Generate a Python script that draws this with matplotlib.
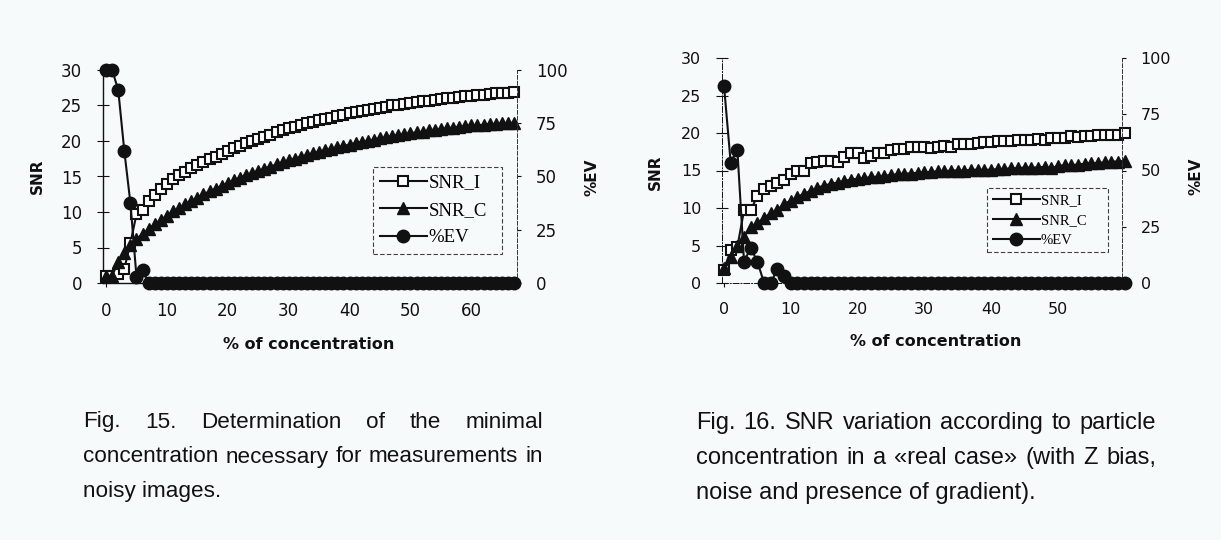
import numpy as np
import matplotlib
matplotlib.use("Agg")
import matplotlib.pyplot as plt

W, H = 1221, 540
BG = "#f7fafb"
INK = "#111111"

# ---- Fig. 15 readings (noisy images) ----
conc_15 = np.arange(68)
snr_i_15 = [1.0, 1.0, 1.2, 2.0, 5.6, 9.7, 10.3, 11.5, 12.4, 13.3,
            14.0, 14.6, 15.2, 15.7, 16.2, 16.6, 17.0, 17.4, 17.8, 18.2,
            18.6, 19.0, 19.3, 19.7, 20.0, 20.3, 20.6, 20.9, 21.2, 21.5,
            21.8, 22.0, 22.3, 22.5, 22.7, 22.9, 23.1, 23.3, 23.5, 23.7,
            23.9, 24.1, 24.2, 24.4, 24.5, 24.7, 24.8, 25.0, 25.1, 25.2,
            25.4, 25.5, 25.6, 25.7, 25.8, 25.9, 26.0, 26.1, 26.2, 26.3,
            26.4, 26.5, 26.5, 26.6, 26.7, 26.7, 26.8, 26.9]
snr_c_15 = [1.0, 1.0, 3.0, 4.2, 5.3, 6.2, 6.9, 7.6, 8.3, 8.9,
            9.5, 10.1, 10.6, 11.1, 11.6, 12.0, 12.5, 12.9, 13.3, 13.7,
            14.1, 14.5, 14.8, 15.2, 15.5, 15.8, 16.1, 16.4, 16.7, 17.0,
            17.3, 17.5, 17.8, 18.0, 18.3, 18.5, 18.7, 18.9, 19.1, 19.3,
            19.5, 19.7, 19.9, 20.0, 20.2, 20.4, 20.5, 20.7, 20.8, 21.0,
            21.1, 21.2, 21.3, 21.5, 21.6, 21.7, 21.8, 21.9, 22.0, 22.1,
            22.2, 22.2, 22.3, 22.4, 22.4, 22.5, 22.5, 22.6]
ev_15 = [100, 100, 90.7, 62.0, 37.6, 3.0, 6.0, 0, 0, 0,
         0, 0, 0, 0, 0, 0, 0, 0, 0, 0,
         0, 0, 0, 0, 0, 0, 0, 0, 0, 0,
         0, 0, 0, 0, 0, 0, 0, 0, 0, 0,
         0, 0, 0, 0, 0, 0, 0, 0, 0, 0,
         0, 0, 0, 0, 0, 0, 0, 0, 0, 0,
         0, 0, 0, 0, 0, 0, 0, 0]

# ---- Fig. 16 readings (real case) ----
conc_16 = np.arange(61)
snr_i_16 = [1.7, 4.4, 4.8, 9.7, 9.7, 11.6, 12.5, 12.9, 13.4, 13.8,
            14.5, 15.0, 15.0, 16.0, 16.2, 16.3, 16.3, 16.2, 16.8, 17.3,
            17.3, 16.7, 17.0, 17.3, 17.4, 17.8, 17.9, 17.9, 18.1, 18.1,
            18.2, 18.0, 18.2, 18.3, 18.2, 18.5, 18.5, 18.6, 18.7, 18.8,
            18.8, 18.9, 19.0, 19.0, 19.1, 19.1, 19.1, 19.2, 19.1, 19.3,
            19.3, 19.4, 19.6, 19.5, 19.6, 19.6, 19.7, 19.7, 19.8, 19.8,
            20.0]
snr_c_16 = [2.0, 3.5, 5.0, 6.2, 7.5, 8.0, 8.7, 9.3, 9.8, 10.5,
            11.0, 11.5, 11.9, 12.3, 12.7, 13.0, 13.2, 13.4, 13.6, 13.8,
            13.9, 14.0, 14.1, 14.2, 14.3, 14.4, 14.5, 14.6, 14.6, 14.7,
            14.8, 14.8, 14.9, 14.9, 15.0, 15.0, 15.0, 15.1, 15.1, 15.1,
            15.1, 15.2, 15.2, 15.3, 15.3, 15.4, 15.4, 15.4, 15.5, 15.3,
            15.6, 15.7, 15.7, 15.8, 15.9, 16.0, 16.0, 16.1, 16.2, 16.2,
            16.3]
ev_16 = [87.7, 53.5, 59.3, 9.5, 15.6, 9.5, 0, 0, 6.3, 3.3,
         0, 0, 0, 0, 0, 0, 0, 0, 0, 0,
         0, 0, 0, 0, 0, 0, 0, 0, 0, 0,
         0, 0, 0, 0, 0, 0, 0, 0, 0, 0,
         0, 0, 0, 0, 0, 0, 0, 0, 0, 0,
         0, 0, 0, 0, 0, 0, 0, 0, 0, 0,
         0]

snr_ticks = [0, 5, 10, 15, 20, 25, 30]
ev_ticks = [0, 25, 50, 75, 100]
xticks_15 = [0, 10, 20, 30, 40, 50, 60]
xticks_16 = [0, 10, 20, 30, 40, 50]
labels = ["SNR_I", "SNR_C", "%EV"]

caption_15 = ["Fig. 15.  Determination of the minimal",
              "concentration necessary for measurements in",
              "noisy images."]
caption_16 = ["Fig. 16.  SNR variation according to particle",
              "concentration in a «real case» (with Z bias,",
              "noise and presence of gradient)."]


def px_axes(left, top, right, bottom):
    return [left / W, 1 - bottom / H, (right - left) / W, (bottom - top) / H]


def draw_panel(rect, x, snr_i, snr_c, ev, xlim, xticks, dashed_left,
               tick_size, leg_box, leg_size, leg_handle, leg_space,
               xlab_pos, snr_pos, ev_pos):
    ax = fig.add_axes(rect)
    ax.set_facecolor("none")
    ax.plot(x, snr_i, color=INK, lw=1.5, marker="s", ms=7.5, mfc="white",
            mec=INK, mew=1.5, clip_on=False, zorder=3)
    ax.plot(x, snr_c, color=INK, lw=1.5, marker="^", ms=8.5, mfc=INK,
            mec=INK, clip_on=False, zorder=3)
    ax.set_xlim(*xlim)
    ax.set_ylim(0, 30)
    ax.set_xticks(xticks)
    ax.set_yticks(snr_ticks)
    ax.tick_params(axis="y", direction="inout", length=9, width=0.8,
                   pad=10.5, labelsize=tick_size, colors=INK)
    ax.tick_params(axis="x", direction="out", length=3, width=0.8,
                   pad=11, labelsize=tick_size, colors=INK)
    ax.spines["top"].set_visible(False)
    ax.spines["right"].set_visible(False)
    for side in ["left", "bottom"]:
        ax.spines[side].set_color(INK)
        ax.spines[side].set_linewidth(1.0)
        if dashed_left:
            ax.spines[side].set_linestyle((0, (6, 2, 1, 2)))
            ax.spines[side].set_linewidth(0.7)

    ax.set_xlabel("% of concentration", fontsize=11.5, fontweight="bold",
                  color=INK, va="center")
    ax.xaxis.set_label_coords(*xlab_pos)
    ax.set_ylabel("SNR", fontsize=11, fontweight="bold", color=INK,
                  va="center")
    ax.yaxis.set_label_coords(*snr_pos)

    tw = ax.twinx()
    tw.plot(x, ev, color=INK, lw=1.5, marker="o", ms=9, mfc=INK, mec=INK,
            clip_on=False, zorder=4)
    tw.set_ylim(0, 100)
    tw.set_yticks(ev_ticks)
    tw.tick_params(axis="y", direction="out", length=3, width=0.8,
                   pad=10.5, labelsize=tick_size, colors=INK)
    for side in ["top", "left", "bottom"]:
        tw.spines[side].set_visible(False)
    tw.spines["right"].set_linestyle((0, (4, 2)))
    tw.spines["right"].set_linewidth(0.7)
    tw.spines["right"].set_color("#333333")
    tw.set_ylabel("%EV", fontsize=11, fontweight="bold", color=INK,
                  va="center", rotation=90)
    tw.yaxis.set_label_coords(*ev_pos)

    handles = ax.get_lines() + tw.get_lines()
    leg = tw.legend(handles, labels, loc="upper left", bbox_to_anchor=leg_box,
                    mode="expand", borderaxespad=0, handlelength=leg_handle,
                    labelspacing=leg_space, handletextpad=0.1,
                    prop={"family": "Liberation Serif", "size": leg_size},
                    fancybox=False, borderpad=0.4)
    frame = leg.get_frame()
    frame.set_linestyle((0, (4, 2)))
    frame.set_edgecolor(INK)
    frame.set_linewidth(0.8)
    frame.set_facecolor("none")
    return ax, tw


def caption(lines, x0, x1, y0, step, size):
    renderer = fig.canvas.get_renderer()
    for k, line in enumerate(lines):
        y = 1 - (y0 + k * step) / H
        if k == len(lines) - 1:
            fig.text(x0 / W, y, line, fontsize=size, family="Liberation Sans",
                     color=INK, va="center")
            continue
        words = line.split()
        texts = [fig.text(0, y, w, fontsize=size, family="Liberation Sans",
                          color=INK, va="center") for w in words]
        widths = [t.get_window_extent(renderer).width for t in texts]
        gap = (x1 - x0 - sum(widths)) / (len(words) - 1)
        pos = x0
        for t, w in zip(texts, widths):
            t.set_x(pos / W)
            pos += w + gap


fig = plt.figure(figsize=(W / 100, H / 100), dpi=100, facecolor=BG)

draw_panel(px_axes(103, 70, 517, 283), conc_15, snr_i_15, snr_c_15, ev_15,
           (-0.5, 67.5), xticks_15, False, 12,
           (0.651, 0.15, 0.312, 0.395), 13.5, 2.5, 0.55,
           (0.4976, -0.291), (-0.159, 0.502), (1.181, 0.498))

draw_panel(px_axes(722, 58, 1122, 283), conc_16, snr_i_16, snr_c_16, ev_16,
           (-0.3, 59.6), xticks_16, True, 11.5,
           (0.6625, 0.138, 0.3025, 0.284), 10.5, 3.2, 0.45,
           (0.535, -0.258), (-0.1675, 0.493), (1.185, 0.476))

caption(caption_15, 83, 543, 422, 35, 16.2)
caption(caption_16, 696, 1156, 423, 35, 17)

fig.savefig("out.png", dpi=100, facecolor=BG)
